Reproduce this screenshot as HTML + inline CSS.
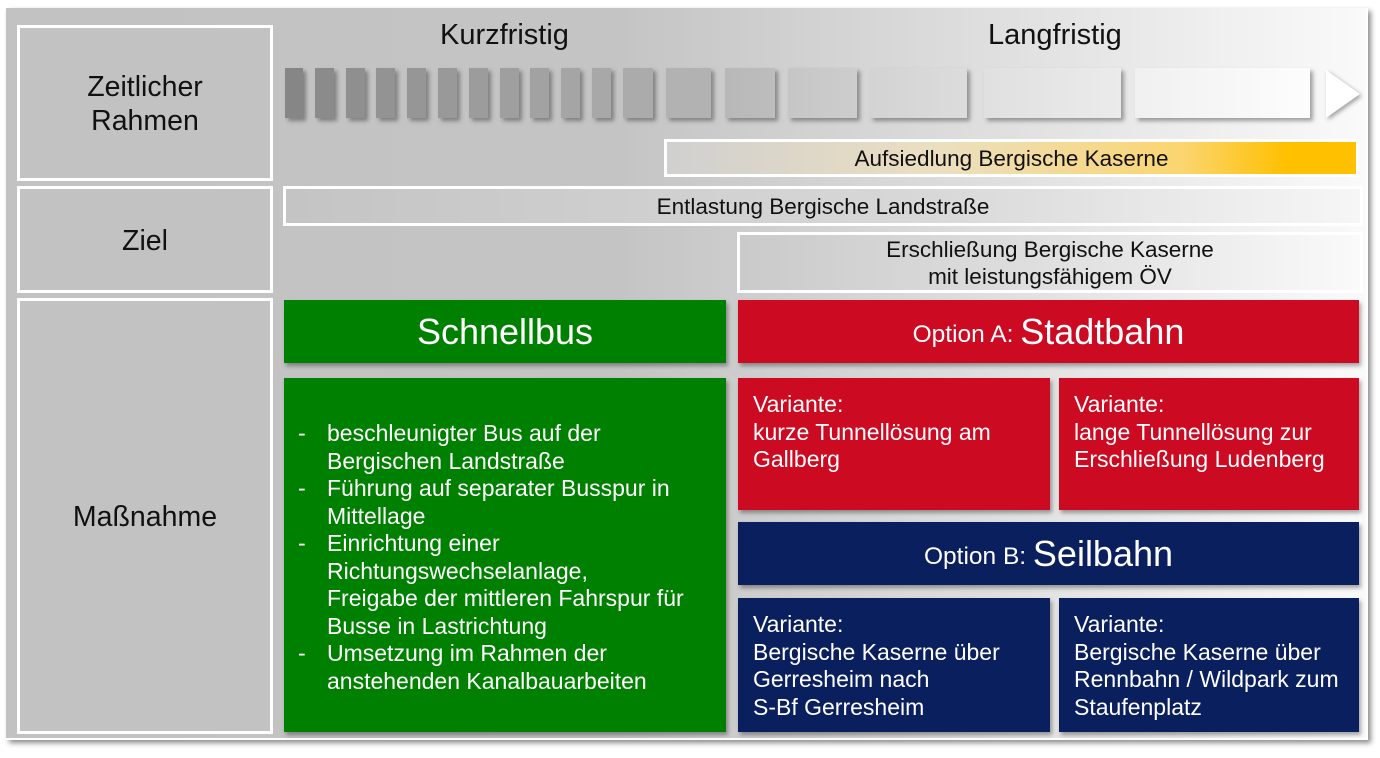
<!DOCTYPE html>
<html><head><meta charset="utf-8"><style>
body{margin:0;width:1380px;height:758px;background:#fff;position:relative;overflow:hidden;font-family:"Liberation Sans",sans-serif;}
.a{position:absolute;box-sizing:border-box;}
.panel{left:6px;top:8px;width:1362px;height:732px;background:linear-gradient(90deg,#c2c2c2 0%,#c4c4c4 45%,#e6e6e6 80%,#fafafa 100%);box-shadow:3px 3px 5px rgba(0,0,0,0.45);border-right:2px solid #fff;border-bottom:2px solid #fff;}
.lb{border:3px solid #fff;background:#c2c2c2;display:flex;align-items:center;justify-content:center;text-align:center;font-size:28.5px;line-height:34px;color:#111;padding-top:2px;}
.blk{box-shadow:3px 3px 4px rgba(0,0,0,0.35);}
.bar{border:3px solid #fff;display:flex;align-items:center;justify-content:center;text-align:center;font-size:22.5px;line-height:27px;color:#111;}
.hd{color:#fff;display:flex;align-items:center;justify-content:center;box-shadow:2px 3px 4px rgba(0,0,0,0.35);}
.v{color:#fff;font-size:23px;line-height:27.5px;padding:13px 0 0 15px;box-shadow:2px 3px 4px rgba(0,0,0,0.35);white-space:nowrap;}
.red{background:#cc0a22}.blue{background:#0a1f5e}.green{background:#008000}
ul{margin:0;padding:0;list-style:none}
li{position:relative;padding-left:43px;white-space:nowrap}
li:before{content:"-";position:absolute;left:14px}
</style></head><body>
<div class="a panel"></div>
<div class="a lb" style="left:17px;top:25px;width:256px;height:156px;">Zeitlicher<br>Rahmen</div>
<div class="a lb" style="left:17px;top:186px;width:256px;height:107px;">Ziel</div>
<div class="a lb" style="left:17px;top:298px;width:256px;height:436px;">Maßnahme</div>
<div class="a" style="left:440px;top:19px;font-size:29px;color:#111;">Kurzfristig</div>
<div class="a" style="left:988px;top:19px;font-size:29px;color:#111;">Langfristig</div>
<div class="a blk" style="left:285px;top:68px;width:18px;height:50px;background:#868686"></div>
<div class="a blk" style="left:315px;top:68px;width:19px;height:50px;background:#8b8b8b"></div>
<div class="a blk" style="left:346px;top:68px;width:19px;height:50px;background:#8f8f8f"></div>
<div class="a blk" style="left:376px;top:68px;width:19px;height:50px;background:#939393"></div>
<div class="a blk" style="left:407px;top:68px;width:19px;height:50px;background:#969696"></div>
<div class="a blk" style="left:438px;top:68px;width:19px;height:50px;background:#999"></div>
<div class="a blk" style="left:469px;top:68px;width:19px;height:50px;background:#9c9c9c"></div>
<div class="a blk" style="left:500px;top:68px;width:19px;height:50px;background:#9f9f9f"></div>
<div class="a blk" style="left:530px;top:68px;width:19px;height:50px;background:#a2a2a2"></div>
<div class="a blk" style="left:561px;top:68px;width:19px;height:50px;background:#a5a5a5"></div>
<div class="a blk" style="left:592px;top:68px;width:19px;height:50px;background:#a8a8a8"></div>
<div class="a blk" style="left:623px;top:68px;width:30px;height:50px;background:#ababab"></div>
<div class="a blk" style="left:666px;top:68px;width:45px;height:50px;background:#b2b2b2"></div>
<div class="a blk" style="left:725px;top:68px;width:50px;height:50px;background:linear-gradient(90deg,#b8b8b8,#bdbdbd)"></div>
<div class="a blk" style="left:788px;top:68px;width:69px;height:50px;background:linear-gradient(90deg,#c6c6c6,#cdcdcd)"></div>
<div class="a blk" style="left:870px;top:68px;width:97px;height:50px;background:linear-gradient(90deg,#d3d3d3,#dcdcdc)"></div>
<div class="a blk" style="left:984px;top:68px;width:137px;height:50px;background:linear-gradient(90deg,#e0e0e0,#ebebeb)"></div>
<div class="a blk" style="left:1135px;top:68px;width:175px;height:50px;background:linear-gradient(90deg,#f0f0f0,#fdfdfd)"></div>
<svg class="a" style="left:1322px;top:66px" width="44" height="58"><polygon points="4,4 38,28 4,52" fill="#fff" style="filter:drop-shadow(2px 2px 2px rgba(0,0,0,.35))"/></svg>
<div class="a bar" style="left:664px;top:139px;width:695px;height:38px;background:linear-gradient(90deg,#d0d0d0 0%,#ecdfc0 40%,#fbd56e 75%,#ffc000 90%);">Aufsiedlung Bergische Kaserne</div>
<div class="a bar" style="left:283px;top:186px;width:1080px;height:40px;background:linear-gradient(90deg,#c4c4c4,#d8d8d8 60%,#f6f6f6);">Entlastung Bergische Landstraße</div>
<div class="a bar" style="left:737px;top:232px;width:626px;height:61px;background:linear-gradient(90deg,#cacaca,#e4e4e4 60%,#fafafa);">Erschließung Bergische Kaserne<br>mit leistungsfähigem ÖV</div>
<div class="a hd green" style="left:284px;top:300px;width:442px;height:63px;font-size:36px;">Schnellbus</div>
<div class="a green" style="left:284px;top:378px;width:442px;height:354px;color:#fff;font-size:23px;line-height:27.5px;padding-top:42px;box-shadow:2px 3px 4px rgba(0,0,0,.35);">
<ul><li>beschleunigter Bus auf der<br>Bergischen Landstraße</li><li>Führung auf separater Busspur in<br>Mittellage</li><li>Einrichtung einer<br>Richtungswechselanlage,<br>Freigabe der mittleren Fahrspur für<br>Busse in Lastrichtung</li><li>Umsetzung im Rahmen der<br>anstehenden Kanalbauarbeiten</li></ul></div>
<div class="a hd red" style="left:738px;top:300px;width:621px;height:63px;"><span style="font-size:24.5px;margin-top:6px">Option A:&nbsp;</span><span style="font-size:36px">Stadtbahn</span></div>
<div class="a v red" style="left:738px;top:378px;width:312px;height:132px;">Variante:<br>kurze Tunnellösung am<br>Gallberg</div>
<div class="a v red" style="left:1059px;top:378px;width:300px;height:132px;">Variante:<br>lange Tunnellösung zur<br>Erschließung Ludenberg</div>
<div class="a hd blue" style="left:738px;top:522px;width:621px;height:63px;"><span style="font-size:24.5px;margin-top:6px">Option B:&nbsp;</span><span style="font-size:36px">Seilbahn</span></div>
<div class="a v blue" style="left:738px;top:598px;width:312px;height:134px;">Variante:<br>Bergische Kaserne über<br>Gerresheim nach<br>S-Bf Gerresheim</div>
<div class="a v blue" style="left:1059px;top:598px;width:300px;height:134px;">Variante:<br>Bergische Kaserne über<br>Rennbahn / Wildpark zum<br>Staufenplatz</div>
</body></html>
